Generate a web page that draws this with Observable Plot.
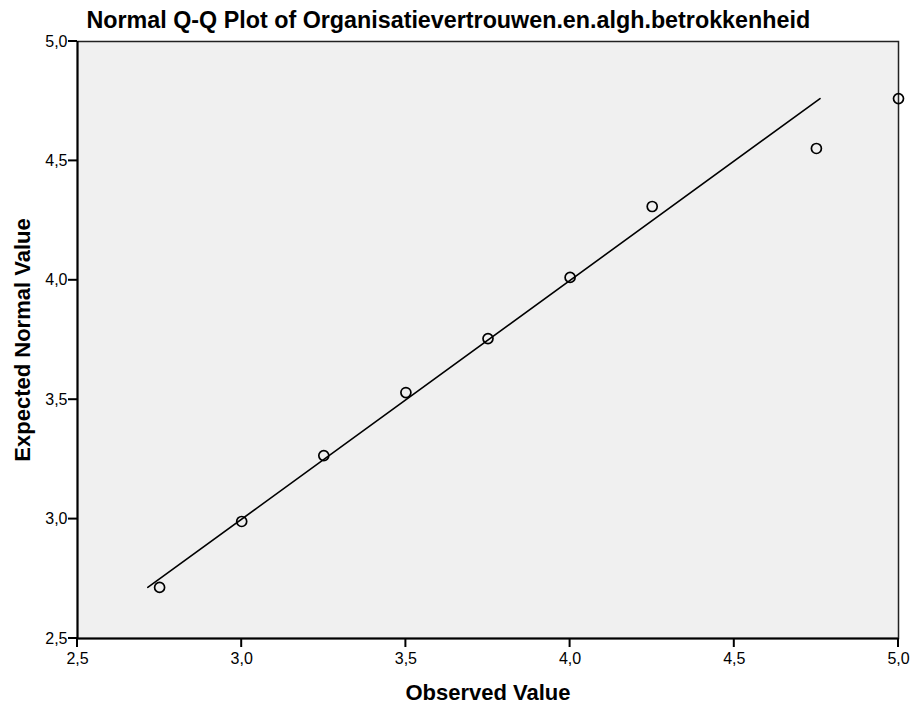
<!DOCTYPE html>
<html>
<head>
<meta charset="utf-8">
<script src="https://cdn.jsdelivr.net/npm/d3@7"></script>
<script src="https://cdn.jsdelivr.net/npm/@observablehq/plot@0.6"></script>
<style>
  html, body { margin: 0; padding: 0; background: #fff; }
  #chart svg { display: block; }
</style>
</head>
<body>
<div id="chart"></div>
<script>
const title = "Normal Q-Q Plot of Organisatievertrouwen.en.algh.betrokkenheid";
const xLabel = "Observed Value";
const yLabel = "Expected Normal Value";
const observed = [2.75, 3.0, 3.25, 3.5, 3.75, 4.0, 4.25, 4.75, 5.0];
const expected = [2.714, 2.990, 3.266, 3.530, 3.756, 4.012, 4.309, 4.552, 4.761];
const refLine = [2.714, 4.761];
const ticks = [2.5, 3.0, 3.5, 4.0, 4.5, 5.0];

const points = observed.map((o, i) => ({observed: o, expected: expected[i]}));
const fmt = d => d.toFixed(1).replace(".", ",");
const font = "'Liberation Sans', Arial, sans-serif";
const lo = 2.5;

const chart = Plot.plot({
  width: 913,
  height: 704,
  marginLeft: 77,
  marginRight: 15,
  marginTop: 41,
  marginBottom: 66,
  style: {fontFamily: font, background: "#fff", color: "#000"},
  x: {domain: [2.5, 5.0], axis: null},
  y: {domain: [2.5, 5.0], axis: null},
  marks: [
    Plot.frame({fill: "#f0f0f0", stroke: "#222", strokeWidth: 1.5}),
    Plot.ruleX([lo], {stroke: "#000", strokeWidth: 2}),
    Plot.ruleY([lo], {stroke: "#000", strokeWidth: 2}),
    // tick labels
    Plot.text(ticks, {x: d => d, frameAnchor: "bottom", dy: 20, text: fmt, textAnchor: "middle", lineAnchor: "middle", fontSize: 16, fill: "#000"}),
    Plot.text(ticks, {y: d => d, frameAnchor: "left", dx: -10, text: fmt, textAnchor: "end", lineAnchor: "middle", fontSize: 16, fill: "#000"}),
    Plot.line(refLine, {x: d => d, y: d => d, stroke: "#000", strokeWidth: 1.6}),
    Plot.dot(points, {x: "observed", y: "expected", r: 5, stroke: "#000", strokeWidth: 1.7, fill: "none", clip: false}),
    Plot.text([title], {frameAnchor: "top-left", text: d => d, dx: 9, dy: -21, textAnchor: "start", lineAnchor: "middle", fontSize: 23.3, fontWeight: "bold", fill: "#000"}),
    Plot.text([xLabel], {frameAnchor: "bottom", text: d => d, dy: 54, textAnchor: "middle", lineAnchor: "middle", fontSize: 22, fontWeight: "bold", fill: "#000"}),
    Plot.text([yLabel], {frameAnchor: "left", text: d => d, dx: -55, rotate: -90, textAnchor: "middle", lineAnchor: "middle", fontSize: 22, fontWeight: "bold", fill: "#000"})
  ]
});

// outward tick marks, positioned with Plot's own x and y scales
const xs = chart.scale("x"), ys = chart.scale("y");
const x0 = xs.apply(lo), y0 = ys.apply(lo);
const g = d3.select(chart).append("g").attr("stroke", "#000").attr("stroke-width", 2);
g.selectAll("line.xt").data(ticks).join("line").attr("class", "xt")
  .attr("x1", d => xs.apply(d)).attr("x2", d => xs.apply(d))
  .attr("y1", y0).attr("y2", y0 + 9);
g.selectAll("line.yt").data(ticks).join("line").attr("class", "yt")
  .attr("y1", d => ys.apply(d)).attr("y2", d => ys.apply(d))
  .attr("x1", x0).attr("x2", x0 - 9);

document.getElementById("chart").appendChild(chart);
</script>
</body>
</html>
